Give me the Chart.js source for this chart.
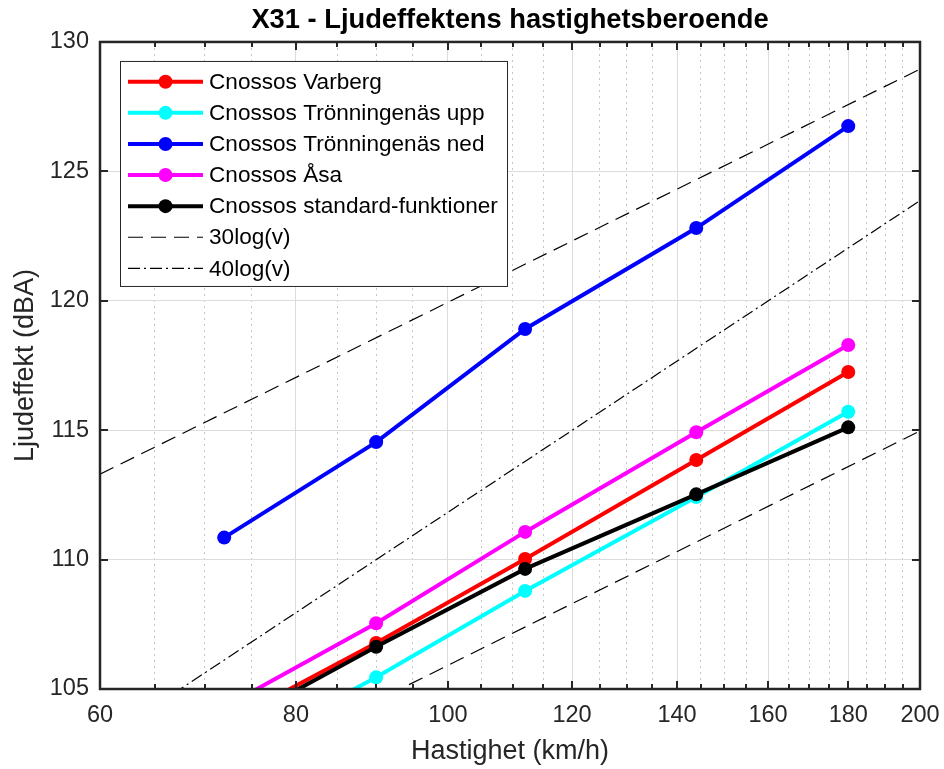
<!DOCTYPE html>
<html>
<head>
<meta charset="utf-8">
<script src="https://cdn.jsdelivr.net/npm/chart.js@4.4.1/dist/chart.umd.min.js"></script>
<style>
  html, body { margin: 0; padding: 0; background: #ffffff; }
  #wrap { position: relative; width: 944px; height: 769px; }
</style>
</head>
<body>
<div id="wrap"><canvas id="c" width="944" height="769"></canvas></div>
<script>
// ---- data ----
const speeds = [72, 90, 112, 144, 180];
const varberg = [103.65, 106.78, 110.02, 113.85, 117.25];
const tronUpp = [102.3, 105.45, 108.79, 112.42, 115.71];
const tronNed = [110.85, 114.54, 118.91, 122.81, 126.75];
const asa = [104.3, 107.54, 111.07, 114.92, 118.29];
const standard = [103.44, 106.63, 109.64, 112.52, 115.11];

const refSpeeds = [60, 200];
const ref30Upper = [113.3, 128.95];
const ref30Lower = [99.24, 114.97];
const ref40 = [102.95, 123.87];

const seriesLabels = ['Cnossos Varberg', 'Cnossos Trönningenäs upp', 'Cnossos Trönningenäs ned', 'Cnossos Åsa', 'Cnossos standard-funktioner', '30log(v)', '40log(v)'];
const xTickLabels = [60, 80, 100, 120, 140, 160, 180, 200];
const xMinorTicks = [65, 70, 75, 85, 90, 95, 105, 110, 115, 125, 130, 135, 145, 150, 155, 165, 170, 175, 185, 190, 195];
const yTickLabels = [105, 110, 115, 120, 125, 130];

const titleText = 'X31 - Ljudeffektens hastighetsberoende';
const xTitle = 'Hastighet (km/h)';
const yTitle = 'Ljudeffekt (dBA)';

// ---- helpers ----
const FONT = '"Liberation Sans", Arial, Helvetica, sans-serif';
const pts = (xs, ys) => xs.map((x, i) => ({ x: x, y: ys[i] }));
const allXTicks = xTickLabels.concat(xMinorTicks).sort((a, b) => a - b);
const isMajorX = v => xTickLabels.includes(v);

function seriesDs(label, data, color, order) {
  return {
    label: label, data: pts(speeds, data),
    borderColor: color, backgroundColor: color,
    borderWidth: 4, pointRadius: 7, pointBackgroundColor: color,
    pointBorderWidth: 0, pointHoverRadius: 7, order: order, tension: 0
  };
}
function refDs(label, ys, dash, order, hideInLegend) {
  return {
    label: label, data: pts(refSpeeds, ys),
    borderColor: '#000000', backgroundColor: '#000000',
    borderWidth: 1.2, borderDash: dash, pointRadius: 0, order: order,
    hideInLegend: !!hideInLegend
  };
}

const datasets = [
  seriesDs(seriesLabels[0], varberg, '#ff0000', 8),
  seriesDs(seriesLabels[1], tronUpp, '#00ffff', 7),
  seriesDs(seriesLabels[2], tronNed, '#0000ff', 6),
  seriesDs(seriesLabels[3], asa, '#ff00ff', 5),
  seriesDs(seriesLabels[4], standard, '#000000', 4),
  refDs(seriesLabels[5], ref30Upper, [15, 8], 3, false),
  refDs(seriesLabels[6], ref40, [12, 4, 2, 4], 2, false),
  refDs(seriesLabels[5], ref30Lower, [15, 8], 1, true)
];

// inward ticks + full axes box
const boxPlugin = {
  id: 'boxTicks',
  afterDraw(chart) {
    const ctx = chart.ctx, ca = chart.chartArea;
    const xs = chart.scales.x, ys = chart.scales.y;
    ctx.save();
    ctx.strokeStyle = '#262626';
    ctx.lineWidth = 2;
    ctx.setLineDash([]);
    ctx.beginPath();
    xs.ticks.forEach(t => {
      const px = Math.round(xs.getPixelForValue(t.value));
      const L = isMajorX(t.value) ? 8 : 5;
      ctx.moveTo(px, ca.bottom); ctx.lineTo(px, ca.bottom - L);
      ctx.moveTo(px, ca.top); ctx.lineTo(px, ca.top + L);
    });
    ys.ticks.forEach(t => {
      const py = Math.round(ys.getPixelForValue(t.value));
      ctx.moveTo(ca.left, py); ctx.lineTo(ca.left + 8, py);
      ctx.moveTo(ca.right, py); ctx.lineTo(ca.right - 8, py);
    });
    ctx.stroke();
    ctx.lineWidth = 2.5;
    ctx.strokeRect(ca.left, ca.top, ca.right - ca.left, ca.bottom - ca.top);
    ctx.restore();
  }
};

// boxed legend inside the axes (top-left), like the reference
const legendPlugin = {
  id: 'boxLegend',
  afterDraw(chart) {
    const ctx = chart.ctx, ca = chart.chartArea;
    const items = chart.data.datasets.filter(d => !d.hideInLegend);
    const bx = ca.left + 20.5, by = ca.top + 19.5, bw = 387, bh = 225;
    const rowH = 31.1, firstY = by + 20.3;
    ctx.save();
    ctx.fillStyle = '#ffffff';
    ctx.fillRect(bx, by, bw, bh);
    ctx.strokeStyle = '#262626';
    ctx.lineWidth = 1;
    ctx.setLineDash([]);
    ctx.strokeRect(bx, by, bw, bh);
    ctx.font = '22.6px ' + FONT;
    ctx.textBaseline = 'middle';
    ctx.textAlign = 'left';
    items.forEach((d, i) => {
      const y = firstY + i * rowH;
      const x0 = bx + 7.5, x1 = bx + 82.5, xm = (x0 + x1) / 2;
      ctx.strokeStyle = d.borderColor;
      ctx.lineWidth = d.borderWidth;
      ctx.setLineDash(d.borderDash || []);
      ctx.beginPath();
      ctx.moveTo(x0, y); ctx.lineTo(x1, y);
      ctx.stroke();
      ctx.setLineDash([]);
      if (d.pointRadius > 0) {
        ctx.fillStyle = d.pointBackgroundColor;
        ctx.beginPath();
        ctx.arc(xm, y, d.pointRadius, 0, Math.PI * 2);
        ctx.fill();
      }
      ctx.fillStyle = '#000000';
      ctx.fillText(d.label, bx + 88.5, y + 1);
    });
    ctx.restore();
  }
};

new Chart(document.getElementById('c'), {
  type: 'line',
  data: { datasets: datasets },
  options: {
    responsive: false,
    animation: false,
    events: [],
    layout: { padding: { left: 0, right: 24, top: 0, bottom: 0 } },
    plugins: {
      legend: { display: false },
      tooltip: { enabled: false },
      title: {
        display: true, text: titleText, fullSize: false,
        color: '#000000',
        font: { family: FONT, size: 27.3, weight: 'bold' },
        padding: { top: 4, bottom: 5.2 }
      }
    },
    scales: {
      x: {
        type: 'logarithmic', min: 60, max: 200,
        afterBuildTicks: s => { s.ticks = allXTicks.map(v => ({ value: v, major: false })); },
        afterFit: s => { s.height = 80; s.paddingLeft = 0; s.paddingRight = 0; },
        ticks: {
          autoSkip: false, maxRotation: 0, minRotation: 0, padding: 12,
          color: '#262626', font: { family: FONT, size: 23.5 },
          callback: v => isMajorX(v) ? String(v) : ''
        },
        grid: {
          drawTicks: false, lineWidth: 1,
          color: c => (c.tick && isMajorX(c.tick.value)) ? '#dcdcdc' : '#c4c4c4'
        },
        border: { display: false, dash: c => (c.tick && isMajorX(c.tick.value)) ? [] : [2, 4] },
        title: {
          display: true, text: xTitle, color: '#262626',
          font: { family: FONT, size: 27 }, padding: { top: 0, bottom: 1 }
        }
      },
      y: {
        type: 'linear', min: 105, max: 130,
        afterBuildTicks: s => { s.ticks = yTickLabels.map(v => ({ value: v })); },
        afterFit: s => { s.width = 100; s.paddingTop = 0; s.paddingBottom = 0; },
        ticks: {
          padding: 11, color: '#262626', font: { family: FONT, size: 23.5 },
          callback: v => String(v)
        },
        grid: { drawTicks: false, lineWidth: 1, color: '#dcdcdc' },
        border: { display: false },
        title: {
          display: true, text: yTitle, color: '#262626',
          font: { family: FONT, size: 27 }, padding: { top: 9, bottom: 0 }
        }
      }
    }
  },
  plugins: [boxPlugin, legendPlugin]
});
</script>
</body>
</html>
